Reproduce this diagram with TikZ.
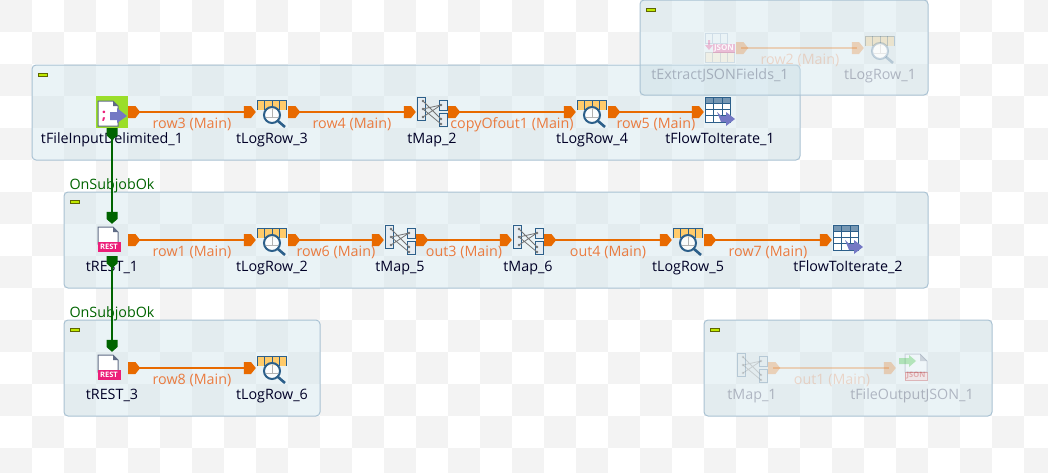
\documentclass[tikz,border=0pt]{standalone}
\usepackage{fontspec}
\setmainfont{Open Sans}
\usetikzlibrary{positioning,arrows.meta}
\definecolor{tilegrey}{HTML}{F3F3F3}
\definecolor{groupfill}{HTML}{D0E4EC}
\definecolor{groupline}{HTML}{A9C2D3}
\definecolor{tagfill}{HTML}{BFE800}
\definecolor{tagline}{HTML}{5F6600}
\definecolor{flowcol}{HTML}{E86A00}
\definecolor{flowtext}{HTML}{EA7B3F}
\definecolor{okcol}{HTML}{006400}
\definecolor{iconblue}{HTML}{2C5F8A}
\definecolor{iconhead}{HTML}{FFCB6B}
\definecolor{iconpurple}{HTML}{7478C4}
\definecolor{iconpink}{HTML}{EC1E79}
\definecolor{pagegrey}{HTML}{5F6B85}
\definecolor{inputgreen}{HTML}{9ADE2A}
\pgfdeclarearrow{
  name=Tab,
  defaults={length=12pt,width=12pt},
  setup code={
    \pgfarrowssettipend{0pt}
    \pgfarrowssetbackend{-\pgfarrowlength}
    \pgfarrowssetvisualbackend{-\pgfarrowlength}
    \pgfarrowssetlineend{-0.6\pgfarrowlength}
    \pgfarrowssavethe\pgfarrowlength
    \pgfarrowssavethe\pgfarrowwidth
  },
  drawing code={
    \pgfsetlinewidth{0pt}
    \pgfpathmoveto{\pgfqpoint{0pt}{0pt}}
    \pgfpathlineto{\pgfqpoint{-0.4\pgfarrowlength}{0.5\pgfarrowwidth}}
    \pgfpathlineto{\pgfqpoint{-\pgfarrowlength}{0.5\pgfarrowwidth}}
    \pgfpathlineto{\pgfqpoint{-\pgfarrowlength}{-0.5\pgfarrowwidth}}
    \pgfpathlineto{\pgfqpoint{-0.4\pgfarrowlength}{-0.5\pgfarrowwidth}}
    \pgfpathclose
    \pgfusepathqfill
  },
  parameters={\the\pgfarrowlength,\the\pgfarrowwidth}
}
\tikzset{
  logicon/.pic={
    \fill[iconhead] (-15,-12) rectangle (14,-2);
    \draw[iconblue, line width=1pt] (-15,-2) -- (-15,-12) -- (14,-12) -- (14,-2);
    \draw[iconblue, line width=.8pt] (-8,-12) -- (-8,-2) (0,-12) -- (0,-2) (7,-12) -- (7,-2);
    \draw[iconblue, fill=white, fill opacity=.8, line width=2pt] (0,3) circle (8);
    \draw[black!30, line width=.8pt] (-6,5) -- (6,5) (0,-3) -- (0,5);
    \draw[iconblue, line width=2.6pt] (6,9) -- (13,15);
  },
  mapicon/.pic={
    \draw[iconblue, fill=iconblue!12, line width=1pt] (-15,-15) rectangle (-7,8);
    \draw[iconblue, fill=iconblue!12, line width=1pt] (7,-12) rectangle (15,-2);
    \draw[iconblue, fill=iconblue!12, line width=1pt] (7,1) rectangle (15,14);
    \draw[black!55, line width=.8pt] (-9,-11) -- (9,7) (-9,-3) -- (9,-7) (-9,5) -- (9,-7) (-9,-3) -- (9,12);
    \foreach \py in {-11,-3,5} {\fill[black!55] (-9,\py) circle (1.4);}
    \foreach \py in {-7,7,12} {\fill[black!55] (9,\py) circle (1.4);}
  },
  flowicon/.pic={
    \draw[iconblue, fill=white, line width=1pt] (-15,-15) rectangle (10,10);
    \fill[iconblue!65] (-15,-15) rectangle (10,-9);
    \draw[iconblue, line width=1pt] (-15,-15) rectangle (10,10) (-15,-9) -- (10,-9) (-15,-3) -- (10,-3) (-15,3) -- (10,3);
    \draw[iconblue, line width=1pt] (-7,-15) -- (-7,10) (2,-15) -- (2,10);
    \fill[iconpurple] (-3,0) -- (1,4) -- (6,4) -- (6,0) -- (15,7) -- (6,14) -- (6,10) -- (1,10) -- cycle;
  },
  resticon/.pic={
    \draw[pagegrey, fill=white, line width=1pt] (-14,-13) -- (1,-13) -- (6,-8) -- (6,4) -- (-14,4) -- cycle;
    \fill[pagegrey] (1,-13) -- (6,-8) -- (1,-8) -- cycle;
    \node[fill=iconpink, text=white, font=\fontsize{7.5}{8}\selectfont\bfseries, minimum width=23pt, minimum height=10pt, inner sep=0pt] (tag) at (-3,7) {REST};
  },
  inputicon/.pic={
    \fill[inputgreen] (-16,-16) rectangle (16,16);
    \draw[pagegrey, fill=white, line width=1pt] (-14,-11) -- (1,-11) -- (6,-6) -- (6,14) -- (-14,14) -- cycle;
    \fill[pagegrey] (1,-11) -- (6,-6) -- (1,-6) -- cycle;
    \node[text=iconpink, font=\fontsize{15}{15}\selectfont\bfseries, inner sep=0pt] (semi) at (-8,4) {;};
    \fill[iconpurple] (-2,0) -- (5,0) -- (5,-4) -- (15,4) -- (5,11) -- (5,8) -- (-2,8) -- cycle;
  },
  extracticon/.pic={
    \draw[iconblue!60, line width=.8pt] (-15,-15) rectangle (7,-5) (-8,-15) -- (-8,-5) (0,-15) -- (0,-5);
    \draw[iconblue!60, fill=iconhead!50, line width=.8pt] (-15,4) rectangle (14,14) (-8,4) -- (-8,14) (0,4) -- (0,14) (7,4) -- (7,14);
    \fill[iconpink] (-12,-8) -- (-10,-8) -- (-10,-3) -- (-7,-3) -- (-11,2) -- (-15,-3) -- (-12,-3) -- cycle;
    \node[fill=iconpink, text=white, text opacity=.9, font=\fontsize{8}{8}\selectfont\bfseries, minimum width=22pt, minimum height=9pt, inner sep=0pt] (tag) at (4,0) {JSON};
  },
  jsonicon/.pic={
    \draw[pagegrey, fill=white, line width=1pt] (-7,-14) -- (8,-14) -- (15,-7) -- (15,4) -- (-7,4) -- cycle;
    \fill[pagegrey] (8,-14) -- (15,-7) -- (8,-7) -- cycle;
    \fill[green!70!black] (-13,-10) -- (-3,-10) -- (-3,-13) -- (4,-7) -- (-3,-1) -- (-3,-4) -- (-13,-4) -- cycle;
    \node[fill=red!25, draw=red!70!black, text=red!70!black, font=\fontsize{7.5}{8}\selectfont\bfseries, minimum width=22pt, minimum height=8pt, inner sep=0pt] (tag) at (4,8) {JSON};
  }
}
\begin{document}
\begin{tikzpicture}
  [ x=1pt, y=-1pt,
    group/.style={draw=groupline, fill=groupfill, fill opacity=.45, line width=1pt, rounded corners=4pt},
    grouptag/.style={draw=tagline, fill=tagfill, line width=.7pt, minimum width=9pt, minimum height=3.6pt, inner sep=0pt},
    comp/.style={rectangle, minimum size=32pt, inner sep=0pt},
    comptext/.style={font=\fontsize{14.3}{16}\selectfont, text=black!85!blue, inner sep=0pt, text height=11pt, text depth=3pt},
    faded/.style={opacity=.25},
    flow/.style={flowcol, line width=2.4pt, {Tab[reversed]}-{Tab}},
    flowlabel/.style={midway, below=4pt, font=\fontsize{14.3}{16}\selectfont, text=flowtext, inner sep=0pt, text height=11pt, text depth=3pt, opacity=1},
    ok/.style={okcol, line width=2.4pt, {Tab[reversed,width=11pt]}-{Tab[width=11pt]}},
    oklabel/.style={midway, yshift=-9pt, font=\fontsize{14.3}{16}\selectfont, text=okcol, inner sep=0pt, text height=11pt, text depth=3pt}
  ]
  \useasboundingbox (0,0) rectangle (1048,472);

  % checker floor
  \begin{scope}
    \clip (0,0) rectangle (1048,472);
    \foreach \gx in {0,64,...,1024} {
      \foreach \gy in {0,64,...,448} {
        \fill[tilegrey] (\gx,\gy) rectangle ++(32,32);
        \fill[tilegrey] (\gx+32,\gy+32) rectangle ++(32,32);
      }
    }
  \end{scope}

  % subjob groups
  \draw[group] (32,65) rectangle (800,160);
  \draw[group] (64,192) rectangle (928,288);
  \draw[group] (64,320) rectangle (320,416);
  \draw[group] (640,0) rectangle (928,95);
  \draw[group] (704,320) rectangle (992,416);
  \node[grouptag] (tagone) at (43,75) {};
  \node[grouptag] (tagtwo) at (75,202) {};
  \node[grouptag] (tagthree) at (75,330) {};
  \node[grouptag] (tagfour) at (651,10) {};
  \node[grouptag] (tagfive) at (715,330) {};

  % first row
  \node[comp] (inputone) at (112,112) {};
  \node[comp] (logthree) at (272,112) {};
  \node[comp] (maptwo) at (432,112) {};
  \node[comp] (logfour) at (592,112) {};
  \node[comp] (iterone) at (720,112) {};
  % second row
  \node[comp] (restone) at (112,240) {};
  \node[comp] (logtwo) at (272,240) {};
  \node[comp] (mapfive) at (400,240) {};
  \node[comp] (mapsix) at (528,240) {};
  \node[comp] (logfive) at (688,240) {};
  \node[comp] (itertwo) at (848,240) {};
  % third row
  \node[comp] (restthree) at (112,368) {};
  \node[comp] (logsix) at (272,368) {};
  % inactive ones
  \node[comp] (extractone) at (720,48) {};
  \node[comp] (logone) at (880,48) {};
  \node[comp] (mapone) at (752,368) {};
  \node[comp] (jsonone) at (912,368) {};

  \pic at (inputone) {inputicon};
  \pic at (logthree) {logicon};
  \pic at (maptwo) {mapicon};
  \pic at (logfour) {logicon};
  \pic at (iterone) {flowicon};
  \pic at (restone) {resticon};
  \pic at (logtwo) {logicon};
  \pic at (mapfive) {mapicon};
  \pic at (mapsix) {mapicon};
  \pic at (logfive) {logicon};
  \pic at (itertwo) {flowicon};
  \pic at (restthree) {resticon};
  \pic at (logsix) {logicon};
  \pic[faded] at (extractone) {extracticon};
  \pic[faded] at (logone) {logicon};
  \pic[faded] at (mapone) {mapicon};
  \pic[faded] at (jsonone) {jsonicon};

  \node[comptext, below=4pt of inputone] (inputonetext) {tFileInputDelimited\_1};
  \node[comptext, below=4pt of logthree] (logthreetext) {tLogRow\_3};
  \node[comptext, below=4pt of maptwo] (maptwotext) {tMap\_2};
  \node[comptext, below=4pt of logfour] (logfourtext) {tLogRow\_4};
  \node[comptext, below=4pt of iterone] (iteronetext) {tFlowToIterate\_1};
  \node[comptext, below=4pt of restone] (restonetext) {tREST\_1};
  \node[comptext, below=4pt of logtwo] (logtwotext) {tLogRow\_2};
  \node[comptext, below=4pt of mapfive] (mapfivetext) {tMap\_5};
  \node[comptext, below=4pt of mapsix] (mapsixtext) {tMap\_6};
  \node[comptext, below=4pt of logfive] (logfivetext) {tLogRow\_5};
  \node[comptext, below=4pt of itertwo] (itertwotext) {tFlowToIterate\_2};
  \node[comptext, below=4pt of restthree] (restthreetext) {tREST\_3};
  \node[comptext, below=4pt of logsix] (logsixtext) {tLogRow\_6};
  \node[comptext, faded, below=4pt of extractone] (extractonetext) {tExtractJSONFields\_1};
  \node[comptext, faded, below=4pt of logone] (logonetext) {tLogRow\_1};
  \node[comptext, faded, below=4pt of mapone] (maponetext) {tMap\_1};
  \node[comptext, faded, below=4pt of jsonone] (jsononetext) {tFileOutputJSON\_1};

  \draw[flow] (inputone) -- node[flowlabel] (rowthree) {row3 (Main)} (logthree);
  \draw[flow] (logthree) -- node[flowlabel] (rowfour) {row4 (Main)} (maptwo);
  \draw[flow] (maptwo) -- node[flowlabel] (copyone) {copyOfout1 (Main)} (logfour);
  \draw[flow] (logfour) -- node[flowlabel] (rowfive) {row5 (Main)} (iterone);
  \draw[flow] (restone) -- node[flowlabel] (rowone) {row1 (Main)} (logtwo);
  \draw[flow] (logtwo) -- node[flowlabel] (rowsix) {row6 (Main)} (mapfive);
  \draw[flow] (mapfive) -- node[flowlabel] (outthree) {out3 (Main)} (mapsix);
  \draw[flow] (mapsix) -- node[flowlabel] (outfour) {out4 (Main)} (logfive);
  \draw[flow] (logfive) -- node[flowlabel] (rowseven) {row7 (Main)} (itertwo);
  \draw[flow] (restthree) -- node[flowlabel] (roweight) {row8 (Main)} (logsix);
  \draw[flow, faded] (extractone) -- node[flowlabel, faded] (rowtwo) {row2 (Main)} (logone);
  \draw[flow, faded] (mapone) -- node[flowlabel, faded] (outone) {out1 (Main)} (jsonone);

  \draw[ok] (inputone) -- node[oklabel] (okone) {OnSubjobOk} (restone);
  \draw[ok] (restone) -- node[oklabel] (oktwo) {OnSubjobOk} (restthree);
\end{tikzpicture}
\end{document}
